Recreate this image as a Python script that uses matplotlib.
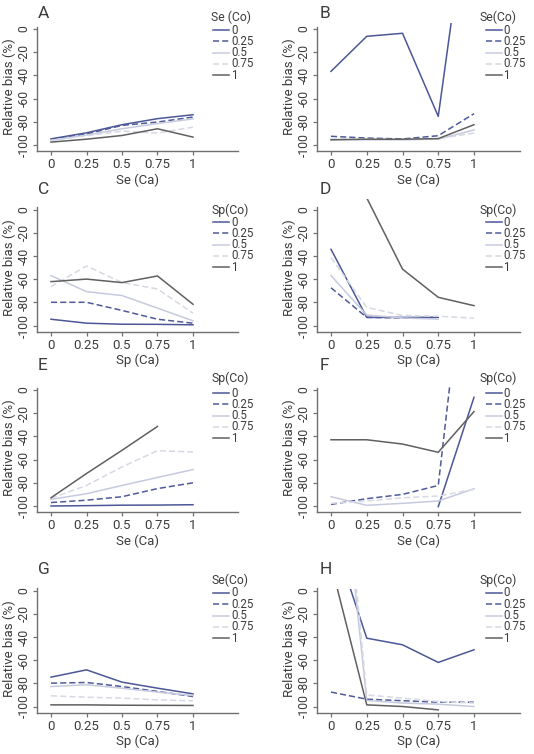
import numpy as np
import matplotlib
matplotlib.use("Agg")
import matplotlib.pyplot as plt
from matplotlib.lines import Line2D

plt.rcParams['font.family'] = ['Roboto', 'DejaVu Sans']

nan = np.nan
x_vals = [0, 0.25, 0.5, 0.75, 1]
levels = ["0", "0.25", "0.5", "0.75", "1"]
x_ticklabels = ["0", "0.25", "0.5", "0.75", "1"]
y_ticks = [0, -20, -40, -60, -80, -100]

letters = ["A", "B", "C", "D", "E", "F", "G", "H"]
xlabels = ["Se (Ca)", "Se (Ca)", "Sp (Ca)", "Sp (Ca)", "Se (Ca)", "Se (Ca)", "Sp (Ca)", "Sp (Ca)"]
legend_titles = ["Se (Co)", "Se(Co)", "Sp(Co)", "Sp(Co)", "Sp(Co)", "Sp(Co)", "Se(Co)", "Sp(Co)"]
ylabel = "Relative bias (%)"

A_series = [[-94.7, -89.5, -82.5, -77.3, -73.9],
            [-95.5, -90.5, -83.1, -80.2, -75.9],
            [-96.0, -91.5, -86.0, -81.5, -77.5],
            [-96.0, -92.0, -88.0, -89.7, -84.6],
            [-97.5, -95.0, -91.8, -86.0, -93.2]]
B_series = [[-36.5, -6.3, -3.7, -75.3, 148],
            [-92.5, -94.0, -94.8, -92.0, -73.0],
            [-95.4, -95.5, -95.5, -95.0, -87.0],
            [-95.0, -95.0, -95.5, -94.5, -89.7],
            [-95.5, -95.0, -95.0, -94.5, -82.5]]
C_series = [[-94.6, -98.0, -98.9, -99.0, -99.4],
            [-80.0, -80.0, -87.0, -94.6, -98.0],
            [-57.0, -70.8, -74.2, -85.0, -96.0],
            [-66.5, -48.7, -63.0, -68.5, -89.4],
            [-62.2, -60.0, -63.0, -57.3, -81.7]]
D_series = [[-34.3, -93.0, -93.0, -93.0, nan],
            [-67.5, -93.0, -93.5, -93.0, nan],
            [-57.0, -91.0, -93.5, -94.5, nan],
            [-41.5, -84.3, -91.4, -92.0, -93.7],
            [60.0, 10.0, -51.4, -75.7, -82.9]]
E_series = [[-100.0, -99.7, -99.3, -99.2, -98.9],
            [-97.0, -95.0, -92.0, -85.0, -80.0],
            [-94.3, -89.4, -82.3, -75.4, -68.6],
            [-93.4, -82.3, -66.3, -52.3, -53.4],
            [-92.9, -72.0, -52.0, -31.4, nan]]
F_series = [[nan, nan, nan, -100.6, -6.3],
            [-98.6, -93.7, -90.0, -82.3, 185],
            [-92.0, -99.4, -97.7, -95.7, -85.1],
            [-97.7, -95.7, -92.9, -91.4, -85.7],
            [-42.9, -42.9, -46.6, -53.7, -18.6]]
G_series = [[-74.7, -68.4, -79.0, -84.2, -89.1],
            [-79.9, -79.3, -82.8, -87.0, -91.4],
            [-82.8, -81.3, -84.2, -87.6, -90.5],
            [-90.8, -92.0, -92.8, -94.3, -95.1],
            [-98.6, -98.6, -98.9, -99.0, -99.1]]
H_series = [[52.0, -41.1, -46.8, -62.0, -51.1],
            [-87.6, -93.7, -95.0, -96.3, -96.3],
            [201, -94.8, -97.0, -98.0, -100.0],
            [231, -90.0, -92.8, -95.7, -97.0],
            [23.0, -98.6, -100.0, -102.9, nan]]
all_series = [A_series, B_series, C_series, D_series, E_series, F_series, G_series, H_series]

# styles
colors = ['#4b5797', '#4f5b98', '#c6cade', '#d6d8e4', '#606060']
styles = ['-', (0, (4, 2)), '-', (0, (4, 2)), '-']
TXT = '#3c3c3c'
SPN = '#707070'

W, Hpx = 534, 754
fig = plt.figure(figsize=(W / 100, Hpx / 100), dpi=100)

col_x0 = [51, 331]
col_sx = [142, 143]
row_y0 = [29, 209.5, 390, 590.5]
SY = 1.16
XMIN, XMAX = -0.1, 1.32
YBOT = -105.2
ytops = [5, 5, 9, 9, 3.5, 3.5, 1.5, 1.5]
letter_y = [14, 190, 366, 570]
letter_x = [38, 320]
leg_title_y = [17, 210, 378, 580]
leg_first_y = [30, 222, 393, 593]
leg_step = 11.3
leg_title_x = [211, 480]
leg_line_x = [(213, 229), (486, 502)]
leg_text_x = [231, 503]


def FX(px):
    return px / W


def FY(py):
    return 1 - py / Hpx


for i in range(8):
    r, c = divmod(i, 2)
    x0, sx = col_x0[c], col_sx[c]
    y0 = row_y0[r]
    ytop = ytops[i]
    left_px = x0 + XMIN * sx
    right_px = x0 + XMAX * sx
    top_px = y0 - ytop * SY
    bot_px = y0 - YBOT * SY
    w_px = right_px - left_px
    h_px = bot_px - top_px
    ax = fig.add_axes([FX(left_px), FY(bot_px), w_px / W, h_px / Hpx])
    ax.set_xlim(XMIN, XMAX)
    ax.set_ylim(YBOT, ytop)
    for s, col, ls in zip(all_series[i], colors, styles):
        ax.plot(x_vals, s, color=col, linestyle=ls, lw=1.1)
    ax.spines['top'].set_visible(False)
    ax.spines['right'].set_visible(False)
    for sp in ['left', 'bottom']:
        ax.spines[sp].set_color(SPN)
        ax.spines[sp].set_linewidth(1.0)
    ax.spines['left'].set_bounds(YBOT, 2)
    ax.set_xticks(x_vals)
    ax.set_xticklabels(x_ticklabels)
    ax.set_yticks(y_ticks)
    ax.set_yticklabels([str(v) for v in y_ticks])
    ax.tick_params(axis='both', colors=SPN, labelcolor=TXT, length=3.2, width=0.9,
                   labelsize=9.5, direction='out')
    ax.tick_params(axis='x', pad=2)
    ax.tick_params(axis='y', pad=1.2, labelrotation=90, labelsize=8.8)
    for lab in ax.get_yticklabels():
        lab.set_va('center')
    ax.set_xlabel(xlabels[i], fontsize=9.5, color=TXT)
    ax.xaxis.label.set_va('center')
    ax.xaxis.set_label_coords(0.5, -29 / h_px)
    ax.set_ylabel(ylabel, fontsize=9.5, color=TXT)
    ax.yaxis.label.set_va('center')
    yc = (-50 - YBOT) / (ytop - YBOT)
    ax.yaxis.set_label_coords(-27 / w_px, yc)

    # panel letter
    fig.text(FX(letter_x[c]), FY(letter_y[r]), letters[i], fontsize=12.5,
             color=TXT, ha='left', va='center')
    # legend
    fig.text(FX(leg_title_x[c]), FY(leg_title_y[r]), legend_titles[i], fontsize=8.8,
             color=TXT, ha='left', va='center')
    for k, (lv, col, ls) in enumerate(zip(levels, colors, styles)):
        yy = leg_first_y[r] + k * leg_step
        fig.add_artist(Line2D([FX(leg_line_x[c][0]), FX(leg_line_x[c][1])],
                              [FY(yy), FY(yy)], color=col, linestyle=ls, lw=1.1,
                              transform=fig.transFigure))
        fig.text(FX(leg_text_x[c]), FY(yy), lv, fontsize=8.3, color=TXT,
                 ha='left', va='center')

fig.savefig("out.png", dpi=100)
